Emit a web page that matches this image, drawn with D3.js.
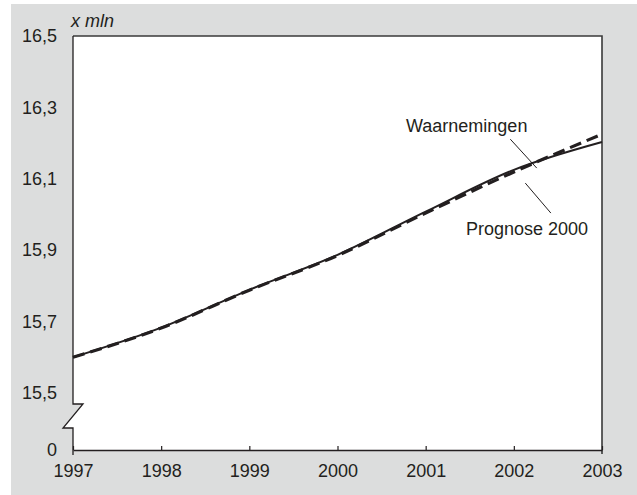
<!DOCTYPE html>
<html>
<head>
<meta charset="utf-8">
<script src="https://cdn.jsdelivr.net/npm/d3@7"></script>
<style>
  body { margin: 0; background: #fff; }
  svg { display: block; font-family: "Liberation Sans", Arial, sans-serif; }
</style>
</head>
<body>
<svg id="chart" width="637" height="495"></svg>
<script>
// data (mln inhabitants)
const years = [1997, 1998, 1999, 2000, 2001, 2002, 2003];
const waarnemingen = [15.600, 15.683, 15.789, 15.887, 16.008, 16.125, 16.203];
const prognose2000 = [15.600, 15.682, 15.788, 15.885, 16.004, 16.119, 16.225];
const yTicks = [15.5, 15.7, 15.9, 16.1, 16.3, 16.5];
const xTicks = [1997, 1998, 1999, 2000, 2001, 2002, 2003];

const ink = '#231f20';
let svg = d3.select('#chart');

let plotL = 73, plotR = 602, plotT = 36, plotB = 450;
let breakTop = 404, breakBottom = 428;

let x = d3.scaleLinear().domain([1997, 2003]).range([plotL, plotR]);
let y = d3.scaleLinear().domain([15.5, 16.5]).range([393, plotT]);

// grey panel
svg.append('rect')
  .attr('x', 11).attr('y', 4)
  .attr('width', 626).attr('height', 491)
  .attr('fill', '#dcdddd');

// white plot area with the axis break cut into the left edge
let area = [[plotL, plotT], [plotR, plotT], [plotR, plotB], [plotL, plotB],
            [plotL, breakBottom], [plotL - 10, breakBottom], [plotL + 10, breakTop], [plotL, breakTop]];
svg.append('path')
  .attr('d', 'M' + area.join('L') + 'Z')
  .attr('fill', '#fff');

// top + right frame
svg.append('path')
  .attr('d', `M${plotL},${plotT}H${plotR}V${plotB + 4}`)
  .attr('fill', 'none')
  .attr('stroke', '#3a3a3a')
  .attr('stroke-width', 1.6);

// left axis with zigzag break
svg.append('path')
  .attr('d', `M${plotL},${plotT}V${breakTop}H${plotL + 10}L${plotL - 10},${breakBottom}H${plotL}V${plotB + 5}`)
  .attr('fill', 'none')
  .attr('stroke', ink)
  .attr('stroke-width', 1.3);

// x axis
let xAxis = d3.axisBottom(x)
  .tickValues(xTicks)
  .tickFormat(d3.format('d'))
  .tickSize(-4)
  .tickSizeOuter(0)
  .tickPadding(14);

let gx = svg.append('g')
  .attr('transform', `translate(0,${plotB})`)
  .call(xAxis);
gx.select('.domain').attr('stroke', ink).attr('stroke-width', 1.3);
gx.selectAll('.tick line').attr('stroke', ink).attr('stroke-width', 1.2);
gx.selectAll('.tick text')
  .attr('fill', ink)
  .style('font-size', '18px')
  .attr('y', 14);

// y axis labels
let yAxis = d3.axisLeft(y)
  .tickValues(yTicks)
  .tickFormat(d => d.toFixed(1).replace('.', ','))
  .tickSize(0)
  .tickPadding(16);

let gy = svg.append('g')
  .attr('transform', `translate(${plotL},0)`)
  .call(yAxis);
gy.select('.domain').remove();
gy.selectAll('.tick text').attr('fill', ink).style('font-size', '18px');

// the zero label below the break
svg.append('text')
  .attr('x', plotL - 16).attr('y', plotB)
  .attr('dy', '0.32em')
  .attr('text-anchor', 'end')
  .attr('fill', ink)
  .style('font-size', '18px')
  .text('0');

// unit
svg.append('text')
  .attr('x', 71).attr('y', 27)
  .attr('fill', ink)
  .style('font-size', '18px')
  .style('font-style', 'italic')
  .text('x mln');

// lines
let line = d3.line()
  .x((d, i) => x(years[i]))
  .y(d => y(d))
  .curve(d3.curveMonotoneX);

svg.append('path')
  .datum(prognose2000)
  .attr('d', line)
  .attr('fill', 'none')
  .attr('stroke', ink)
  .attr('stroke-width', 3.2)
  .attr('stroke-dasharray', '12,6');

svg.append('path')
  .datum(waarnemingen)
  .attr('d', line)
  .attr('fill', 'none')
  .attr('stroke', ink)
  .attr('stroke-width', 2);

// labels with leader lines (data coordinates)
let labels = [
  { text: 'Waarnemingen', tx: 406, ty: 132, from: [2001.96, 16.211], to: [2002.26, 16.130] },
  { text: 'Prognose 2000', tx: 466, ty: 235, from: [2002.13, 16.088], to: [2002.42, 16.004] }
];

labels.forEach(l => {
  svg.append('line')
    .attr('x1', x(l.from[0])).attr('y1', y(l.from[1]))
    .attr('x2', x(l.to[0])).attr('y2', y(l.to[1]))
    .attr('stroke', ink)
    .attr('stroke-width', 1);
  svg.append('text')
    .attr('x', l.tx).attr('y', l.ty)
    .attr('fill', ink)
    .style('font-size', '18px')
    .text(l.text);
});
</script>
</body>
</html>
